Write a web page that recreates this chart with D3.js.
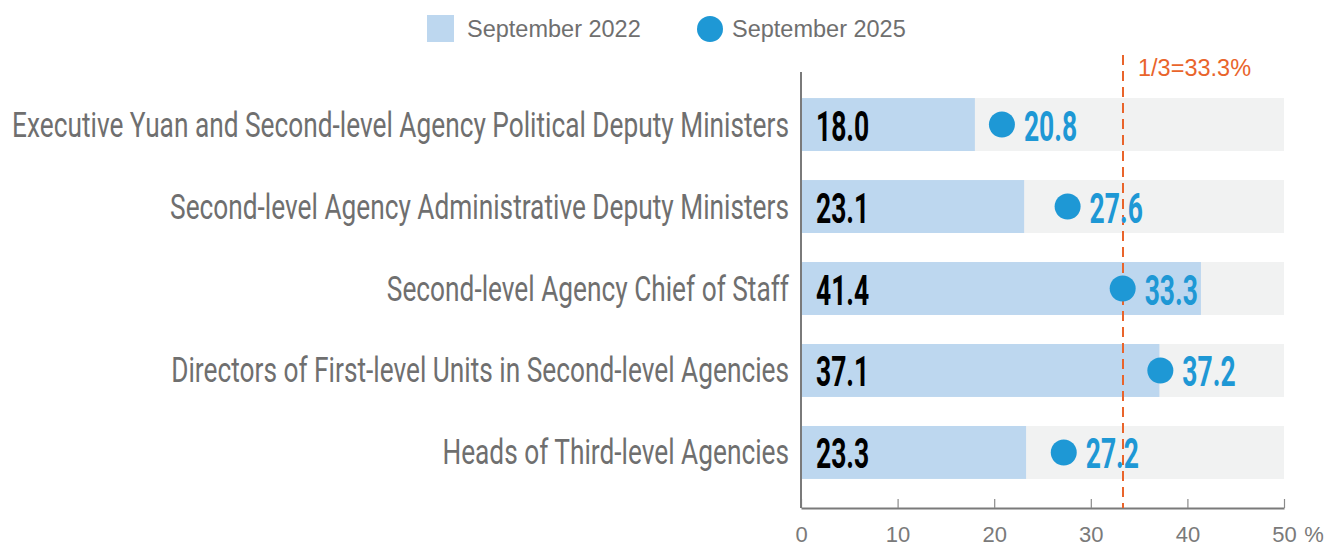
<!DOCTYPE html>
<html>
<head>
<meta charset="utf-8">
<script src="https://cdn.jsdelivr.net/npm/d3@7"></script>
<style>
  body { margin: 0; background: #fff; }
  svg { display: block; }
</style>
</head>
<body>
<div id="chart-area"></div>
<script>
// data
const categories = [
    "Executive Yuan and Second-level Agency Political Deputy Ministers",
    "Second-level Agency Administrative Deputy Ministers",
    "Second-level Agency Chief of Staff",
    "Directors of First-level Units in Second-level Agencies",
    "Heads of Third-level Agencies"
];
const sep2022 = [18.0, 23.1, 41.4, 37.1, 23.3];
const sep2025 = [20.8, 27.6, 33.3, 37.2, 27.2];
const seriesNames = ["September 2022", "September 2025"];
const xTicks = [0, 10, 20, 30, 40, 50];
const targetValue = 100 / 3;
const targetLabel = "1/3=33.3%";

const width = 1327;
const height = 546;

const svg = d3.select("#chart-area")
    .append("svg")
    .attr("width", width)
    .attr("height", height);

const data = categories.map((c, i) => ({cat: c, a: sep2022[i], b: sep2025[i]}));

// scales
const x = d3.scaleLinear()
    .domain([0, 50])
    .range([801, 1284]);

const y = d3.scaleBand()
    .domain(categories)
    .range([71, 506])
    .paddingInner(0.354)
    .paddingOuter(0.33);

const lightBlue = "#bdd7ef";
const dotBlue = "#1e98d5";
const orange = "#e9642b";
const condensed = "Roboto, 'Liberation Sans', sans-serif";
const plain = "'Liberation Sans', Arial, sans-serif";
const axisY = y.range()[1] + 2;

// gray background bars
svg.selectAll("rect.bg")
    .data(data)
    .enter()
    .append("rect")
    .attr("class", "bg")
    .attr("x", x(0))
    .attr("y", d => y(d.cat))
    .attr("width", x(50) - x(0))
    .attr("height", y.bandwidth())
    .attr("fill", "#f1f2f2");

// 2022 bars
svg.selectAll("rect.bar")
    .data(data)
    .enter()
    .append("rect")
    .attr("class", "bar")
    .attr("x", x(0))
    .attr("y", d => y(d.cat))
    .attr("width", d => x(d.a) - x(0))
    .attr("height", y.bandwidth())
    .attr("fill", lightBlue);

// x axis with ticks pointing up
const xAxis = svg.append("g")
    .attr("transform", "translate(0," + axisY + ")")
    .call(d3.axisBottom(x).tickValues(xTicks).tickSize(-9).tickPadding(18).tickSizeOuter(0));
xAxis.select(".domain").attr("stroke", "#7a7a7a").attr("stroke-width", 2);
xAxis.selectAll(".tick line").attr("stroke", "#8a8a8a").attr("stroke-width", 1.2);
xAxis.selectAll(".tick text")
    .attr("fill", "#7a7a7a")
    .style("font-family", plain)
    .style("font-size", "22px");
xAxis.append("text")
    .attr("x", x(50) + 30)
    .attr("y", 18)
    .attr("dy", "0.71em")
    .attr("text-anchor", "middle")
    .attr("fill", "#7a7a7a")
    .style("font-family", plain)
    .style("font-size", "22px")
    .text("%");

// vertical axis line
svg.append("line")
    .attr("x1", x(0)).attr("x2", x(0))
    .attr("y1", 72).attr("y2", axisY)
    .attr("stroke", "#7a7a7a")
    .attr("stroke-width", 2);

// category labels (condensed by horizontal scaling)
const catLabels = svg.selectAll("text.cat")
    .data(data)
    .enter()
    .append("text")
    .attr("class", "cat")
    .attr("text-anchor", "end")
    .attr("fill", "#6f6f6f")
    .style("font-family", condensed)
    .style("font-size", "35px")
    .text(d => d.cat);
const longest = d3.max(catLabels.nodes(), n => n.getComputedTextLength());
const catScale = 777 / longest;
catLabels.attr("transform", d =>
    "translate(789," + (y(d.cat) + y.bandwidth() / 2 + 12) + ") scale(" + catScale + ",1)");

// 2022 value labels inside bars
svg.selectAll("text.va")
    .data(data)
    .enter()
    .append("text")
    .attr("class", "va")
    .attr("fill", "#000")
    .style("font-family", condensed)
    .style("font-size", "42px")
    .style("font-weight", "bold")
    .attr("transform", d =>
        "translate(" + (x(0) + 15) + "," + (y(d.cat) + y.bandwidth() / 2 + 16) + ") scale(0.63,1)")
    .text(d => d3.format(".1f")(d.a));

// target dashed line
svg.append("line")
    .attr("x1", x(targetValue)).attr("x2", x(targetValue))
    .attr("y1", 55).attr("y2", axisY)
    .attr("stroke", orange)
    .attr("stroke-width", 2)
    .attr("stroke-dasharray", "10,6");
svg.append("text")
    .attr("x", x(targetValue) + 15)
    .attr("y", 76)
    .attr("fill", orange)
    .style("font-family", plain)
    .style("font-size", "23.5px")
    .text(targetLabel);

// 2025 dots
svg.selectAll("circle.dot")
    .data(data)
    .enter()
    .append("circle")
    .attr("class", "dot")
    .attr("cx", d => x(d.b))
    .attr("cy", d => y(d.cat) + y.bandwidth() / 2)
    .attr("r", 13)
    .attr("fill", dotBlue);

// 2025 value labels
svg.selectAll("text.vb")
    .data(data)
    .enter()
    .append("text")
    .attr("class", "vb")
    .attr("fill", dotBlue)
    .style("font-family", condensed)
    .style("font-size", "42px")
    .style("font-weight", "bold")
    .attr("transform", d =>
        "translate(" + (x(d.b) + 22) + "," + (y(d.cat) + y.bandwidth() / 2 + 16) + ") scale(0.63,1)")
    .text(d => d3.format(".1f")(d.b));

// legend
const legend = svg.append("g");
legend.append("rect")
    .attr("x", 427).attr("y", 15)
    .attr("width", 27).attr("height", 27)
    .attr("fill", lightBlue);
legend.append("text")
    .attr("x", 467).attr("y", 37)
    .attr("fill", "#6f6f6f")
    .style("font-family", plain)
    .style("font-size", "23.5px")
    .text(seriesNames[0]);
legend.append("circle")
    .attr("cx", 710).attr("cy", 29)
    .attr("r", 13)
    .attr("fill", dotBlue);
legend.append("text")
    .attr("x", 732).attr("y", 37)
    .attr("fill", "#6f6f6f")
    .style("font-family", plain)
    .style("font-size", "23.5px")
    .text(seriesNames[1]);
</script>
</body>
</html>
